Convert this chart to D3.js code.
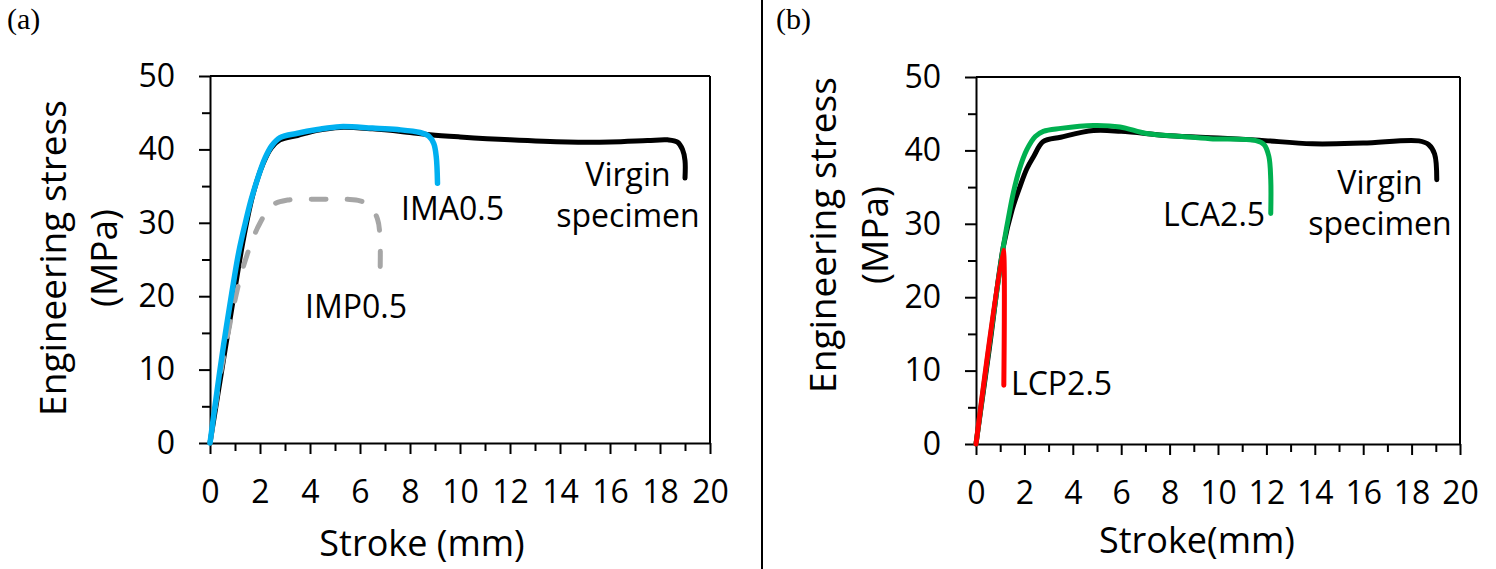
<!DOCTYPE html>
<html>
<head>
<meta charset="utf-8">
<script src="https://cdn.jsdelivr.net/npm/d3@7"></script>
<style>
  html, body { margin: 0; padding: 0; background: #fff; }
  svg { display: block; }
  text { font-family: "Open Sans", "Noto Sans", sans-serif; fill: #000; }
</style>
</head>
<body>
<svg id="chart" width="1496" height="569"></svg>
<script>
// ---------------- data ----------------
const xDomain = [0, 20];
const yDomain = [0, 50];
const xMajorTicks = [0, 2, 4, 6, 8, 10, 12, 14, 16, 18, 20];
const xMinorTicks = [1, 3, 5, 7, 9, 11, 13, 15, 17, 19];
const yMajorTicks = [0, 10, 20, 30, 40, 50];
const yMinorTicks = [5, 15, 25, 35, 45];

// panel (a): [stroke mm, stress MPa]
const virginA = [[0,0],[0.5,10.5],[0.97,20.4],[1.35,28],[1.73,34],[2.13,38.1],[2.45,40.2],[2.8,41.3],[3.5,41.9],[4.3,42.6],[5.2,43.0],[6.5,42.8],[8.0,42.3],[8.8,42.0],[10,41.7],[12,41.3],[14.3,41.0],[16,41.0],[17.5,41.2],[18.3,41.3],[18.7,41.0],[18.9,40.0],[19.0,38.5],[19.0,36.1]];
const imp05 = [[0,0],[0.45,10],[1.0,19.5],[1.33,24],[1.93,29.5],[2.5,32.4],[3.1,33.1],[4.3,33.2],[5.5,33.2],[6.0,33.0],[6.4,32.3],[6.7,30.5],[6.8,28],[6.8,22.5]];
const ima05 = [[0,0],[0.27,6.8],[0.55,13.5],[0.87,20.4],[1.15,26],[1.4,29.8],[1.65,33.2],[1.93,36.3],[2.2,38.8],[2.47,40.5],[2.8,41.6],[3.5,42.2],[4.3,42.7],[5.2,43.1],[6.5,42.9],[7.5,42.7],[8.4,42.3],[8.75,41.8],[8.95,40.8],[9.05,39],[9.1,35.4]];

// panel (b)
const virginB = [[0,0],[0.55,13],[1.13,26.9],[1.5,32],[1.82,35.1],[2.1,37.5],[2.37,39.1],[2.78,41.2],[3.5,41.8],[4.85,42.7],[6,42.6],[8,42.0],[10,41.7],[11.7,41.4],[13.9,40.9],[16,41.0],[18.3,41.3],[18.7,40.8],[18.95,39.5],[19.04,36.0]];
const lca25 = [[0,0],[0.55,13.5],[1.13,26.9],[1.35,31],[1.54,34.2],[1.8,37.5],[2.1,40.1],[2.45,41.9],[2.78,42.6],[3.5,43.0],[4.85,43.4],[5.95,43.2],[7.05,42.3],[8.5,41.9],[9.67,41.6],[11.6,41.3],[11.9,40.8],[12.1,39.2],[12.18,36],[12.18,31.4]];
const lcp25 = [[0,0],[1.12,26.4],[1.15,25.8],[1.15,8.0]];

// ---------------- drawing ----------------
const svg = d3.select("#chart");

const panels = [
  {
    left: 210, right: 710, top: 76, bottom: 443,
    label: "(a)", labelX: 7,
    xTitle: "Stroke (mm)", xTitleX: 422, xTitleY: 556,
    yTitleX1: 66, yTitleX2: 117, yTitleY: 258,
    series: [
      { data: virginA, color: "#000000", width: 5 },
      { data: imp05, color: "#a6a6a6", width: 5, dash: "15,21" },
      { data: ima05, color: "#00b0f0", width: 5.5 }
    ],
    notes: [
      { lines: ["IMA0.5"], x: 401, y: 220, anchor: "start" },
      { lines: ["IMP0.5"], x: 305, y: 318, anchor: "start" },
      { lines: ["Virgin", "specimen"], x: 628, y: 186, anchor: "middle" }
    ]
  },
  {
    left: 976, right: 1460, top: 77, bottom: 444,
    label: "(b)", labelX: 776,
    xTitle: "Stroke(mm)", xTitleX: 1197, xTitleY: 553,
    yTitleX1: 836, yTitleX2: 888, yTitleY: 235,
    series: [
      { data: virginB, color: "#000000", width: 5 },
      { data: lca25, color: "#00b050", width: 5 },
      { data: lcp25, color: "#ff0000", width: 5 }
    ],
    notes: [
      { lines: ["LCA2.5"], x: 1163, y: 226, anchor: "start" },
      { lines: ["LCP2.5"], x: 1011, y: 395, anchor: "start" },
      { lines: ["Virgin", "specimen"], x: 1380, y: 194, anchor: "middle" }
    ]
  }
];

// divider
svg.append("line").attr("x1", 762).attr("x2", 762).attr("y1", 0).attr("y2", 569)
  .attr("stroke", "#000").attr("stroke-width", 2);

panels.forEach(p => {
  const x = d3.scaleLinear().domain(xDomain).range([p.left, p.right]);
  const y = d3.scaleLinear().domain(yDomain).range([p.bottom, p.top]);
  const g = svg.append("g");

  // panel label
  g.append("text").attr("x", p.labelX).attr("y", 29)
    .style("font-family", '"Liberation Serif", "Times New Roman", serif')
    .style("font-size", "30px").text(p.label);

  // minor ticks
  g.append("g").attr("transform", `translate(${p.left},0)`)
    .call(d3.axisLeft(y).tickValues(yMinorTicks).tickSize(8).tickFormat(""))
    .call(s => s.select(".domain").remove())
    .call(s => s.selectAll("line").attr("stroke", "#000").attr("stroke-width", 2));
  g.append("g").attr("transform", `translate(0,${p.bottom})`)
    .call(d3.axisBottom(x).tickValues(xMinorTicks).tickSize(8).tickFormat(""))
    .call(s => s.select(".domain").remove())
    .call(s => s.selectAll("line").attr("stroke", "#000").attr("stroke-width", 2));

  // major axes
  const yAx = g.append("g").attr("transform", `translate(${p.left},0)`)
    .call(d3.axisLeft(y).tickValues(yMajorTicks).tickSizeInner(11).tickSizeOuter(0).tickPadding(24).tickFormat(d3.format("d")));
  const xAx = g.append("g").attr("transform", `translate(0,${p.bottom})`)
    .call(d3.axisBottom(x).tickValues(xMajorTicks).tickSizeInner(11).tickSizeOuter(0).tickPadding(26).tickFormat(d3.format("d")));
  [yAx, xAx].forEach(a => {
    a.select(".domain").attr("stroke", "#000").attr("stroke-width", 2);
    a.selectAll(".tick line").attr("stroke", "#000").attr("stroke-width", 2);
    a.selectAll(".tick text").style("font-family", '"Open Sans", sans-serif').style("font-size", "32px").attr("fill", "#000");
  });

  // box top & right
  g.append("line").attr("x1", p.left).attr("x2", p.right).attr("y1", p.top).attr("y2", p.top)
    .attr("stroke", "#000").attr("stroke-width", 2);
  g.append("line").attr("x1", p.right).attr("x2", p.right).attr("y1", p.top).attr("y2", p.bottom)
    .attr("stroke", "#000").attr("stroke-width", 2);

  // series
  const line = d3.line().x(d => x(d[0])).y(d => y(d[1])).curve(d3.curveCatmullRom.alpha(0.5));
  p.series.forEach(s => {
    g.append("path").attr("d", line(s.data))
      .attr("fill", "none").attr("stroke", s.color).attr("stroke-width", s.width)
      .attr("stroke-linecap", "round").attr("stroke-linejoin", "round")
      .attr("stroke-dasharray", s.dash || null);
  });

  // annotations
  p.notes.forEach(n => {
    const t = g.append("text").attr("x", n.x).attr("y", n.y)
      .attr("text-anchor", n.anchor).style("font-size", "32px");
    n.lines.forEach((ln, i) => {
      t.append("tspan").attr("x", n.x).attr("dy", i === 0 ? 0 : 41).text(ln);
    });
  });

  // x title
  g.append("text").attr("x", p.xTitleX).attr("y", p.xTitleY)
    .attr("text-anchor", "middle").style("font-size", "36px").text(p.xTitle);

  // y title (two rotated lines)
  g.append("text").attr("transform", `translate(${p.yTitleX1},${p.yTitleY}) rotate(-90)`)
    .attr("text-anchor", "middle").style("font-size", "37px").text("Engineering stress");
  g.append("text").attr("transform", `translate(${p.yTitleX2},${p.yTitleY}) rotate(-90)`)
    .attr("text-anchor", "middle").style("font-size", "37px").text("(MPa)");
});
</script>
</body>
</html>
